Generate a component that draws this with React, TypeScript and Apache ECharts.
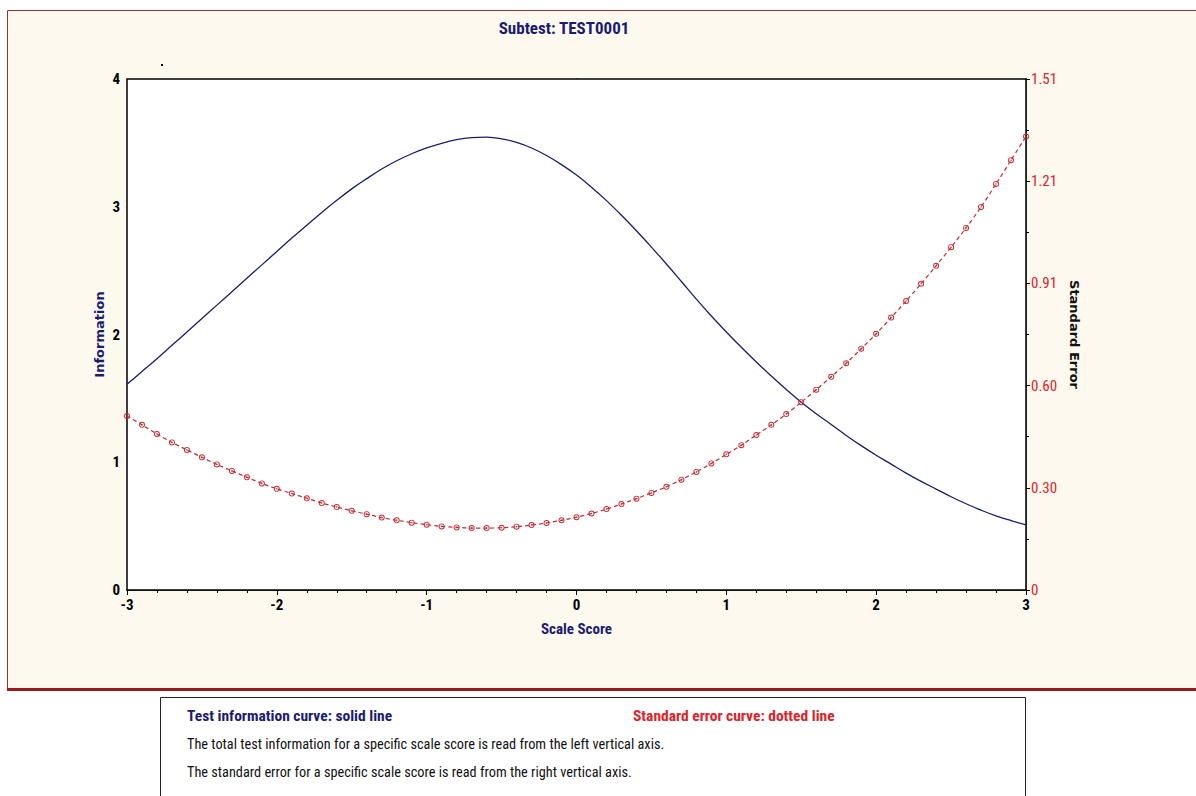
import React, { useEffect, useRef } from "react";
import * as echarts from "echarts";

const scaleScores = [
  -3.0, -2.9, -2.8, -2.7, -2.6, -2.5, -2.4, -2.3, -2.2, -2.1,
  -2.0, -1.9, -1.8, -1.7, -1.6, -1.5, -1.4, -1.3, -1.2, -1.1,
  -1.0, -0.9, -0.8, -0.7, -0.6, -0.5, -0.4, -0.3, -0.2, -0.1,
  0.0, 0.1, 0.2, 0.3, 0.4, 0.5, 0.6, 0.7, 0.8, 0.9,
  1.0, 1.1, 1.2, 1.3, 1.4, 1.5, 1.6, 1.7, 1.8, 1.9,
  2.0, 2.1, 2.2, 2.3, 2.4, 2.5, 2.6, 2.7, 2.8, 2.9, 3.0,
];

const informationValues = [
  1.61, 1.71, 1.81, 1.915, 2.02, 2.125, 2.23, 2.335, 2.44, 2.545,
  2.65, 2.755, 2.855, 2.955, 3.05, 3.14, 3.22, 3.295, 3.36, 3.415,
  3.46, 3.497, 3.525, 3.541, 3.545, 3.532, 3.503, 3.46, 3.401, 3.33,
  3.248, 3.153, 3.048, 2.933, 2.812, 2.684, 2.552, 2.415, 2.277, 2.145,
  2.02, 1.90, 1.785, 1.675, 1.57, 1.47, 1.38, 1.295, 1.21, 1.13,
  1.055, 0.985, 0.915, 0.85, 0.79, 0.73, 0.675, 0.625, 0.58, 0.543, 0.51,
];

const standardErrorValues = [
  0.514, 0.488, 0.461, 0.436, 0.414, 0.392, 0.371, 0.352, 0.333, 0.315,
  0.299, 0.285, 0.271, 0.257, 0.245, 0.234, 0.224, 0.214, 0.206, 0.199,
  0.193, 0.188, 0.185, 0.183, 0.183, 0.184, 0.187, 0.192, 0.198, 0.206,
  0.215, 0.226, 0.239, 0.254, 0.270, 0.287, 0.305, 0.326, 0.349, 0.374,
  0.401, 0.428, 0.458, 0.488, 0.520, 0.555, 0.592, 0.630, 0.670, 0.713,
  0.757, 0.805, 0.854, 0.905, 0.958, 1.013, 1.070, 1.132, 1.200, 1.270, 1.340,
];

const titleText = "Subtest: TEST0001";
const xAxisName = "Scale Score";
const leftAxisName = "Information";
const rightAxisName = "Standard Error";
const noteHeadLeft = "Test information curve: solid line";
const noteHeadRight = "Standard error curve: dotted line";
const noteLines = [
  "The total test information for a specific scale score is read from the left vertical axis.",
  "The standard error for a specific scale score is read from the right vertical axis.",
];

const FONT_N = "'Liberation Sans Narrow','Arial Narrow','Roboto Condensed',sans-serif";
const FONT_V = "'DejaVu Sans',Verdana,sans-serif";
const NAVY = "#1b1b72";
const RED = "#e0222a";
const SE_RED = "#c42a30";

const RING_DOT =
  "path://M0,-10A10,10 0 1,1 0,10A10,10 0 1,1 0,-10Z" +
  "M0,-7A7,7 0 1,0 0,7A7,7 0 1,0 0,-7Z" +
  "M0,-2.6A2.6,2.6 0 1,1 0,2.6A2.6,2.6 0 1,1 0,-2.6Z";

export default function App() {
  const ref = useRef<HTMLDivElement>(null);

  useEffect(() => {
    if (!ref.current) return;
    const chart = echarts.init(ref.current, null, { renderer: "svg" });
    const infoData = scaleScores.map((x, i) => [x, informationValues[i]]);
    const seData = scaleScores.map((x, i) => [x, standardErrorValues[i]]);

    chart.setOption({
      animation: false,
      backgroundColor: "#ffffff",
      grid: {
        left: 127,
        top: 79,
        right: 170,
        bottom: 206,
        show: true,
        backgroundColor: "#ffffff",
        borderColor: "#000000",
        borderWidth: 1.5,
        z: 1,
      },
      xAxis: {
        type: "value",
        min: -3,
        max: 3,
        interval: 1,
        name: xAxisName,
        nameLocation: "middle",
        nameGap: 31,
        nameTextStyle: { color: NAVY, fontWeight: "bold", fontSize: 15, fontFamily: FONT_N },
        axisLine: { show: true, onZero: false, lineStyle: { color: "#000", width: 1.5 } },
        axisTick: { show: true, length: 5, lineStyle: { color: "#000" } },
        minorTick: { show: true, splitNumber: 5, length: 3, lineStyle: { color: "#000" } },
        splitLine: { show: false },
        axisLabel: {
          color: "#000",
          fontWeight: "bold",
          fontSize: 15,
          lineHeight: 15,
          fontFamily: FONT_N,
          margin: 7,
        },
      },
      yAxis: [
        {
          type: "value",
          min: 0,
          max: 4,
          interval: 1,
          position: "left",
          name: leftAxisName,
          nameLocation: "middle",
          nameGap: 21,
          nameMoveOverlap: false,
          nameRotate: 90,
          nameTextStyle: { color: NAVY, fontWeight: "bold", fontSize: 13, fontFamily: FONT_V },
          axisLine: { show: true, lineStyle: { color: "#000", width: 1.5 } },
          axisTick: { show: true, length: 5, lineStyle: { color: "#000" } },
          minorTick: { show: true, splitNumber: 5, length: 3, lineStyle: { color: "#000" } },
          splitLine: { show: false },
          axisLabel: {
            color: "#000",
            fontWeight: "bold",
            fontSize: 15,
            lineHeight: 14,
            fontFamily: FONT_N,
            margin: 7,
          },
        },
        {
          type: "value",
          min: 0,
          max: 1.51,
          interval: 0.302,
          position: "right",
          name: rightAxisName,
          nameLocation: "middle",
          nameGap: 35,
          nameRotate: -90,
          nameTextStyle: { color: "#111", fontWeight: "bold", fontSize: 13, fontFamily: FONT_V },
          axisLine: { show: true, lineStyle: { color: "#808080", width: 2 } },
          axisTick: { show: true, length: 4, lineStyle: { color: "#000" } },
          minorTick: { show: true, splitNumber: 2, length: 3, lineStyle: { color: "#000" } },
          splitLine: { show: false },
          axisLabel: {
            color: RED,
            fontSize: 15,
            fontFamily: FONT_N,
            margin: 5,
            formatter: (v: number) => (v === 0 ? "0" : v.toFixed(2)),
          },
        },
      ],
      series: [
        {
          name: "Information",
          type: "line",
          yAxisIndex: 0,
          data: infoData,
          showSymbol: false,
          smooth: 0.4,
          lineStyle: { color: NAVY, width: 1.3 },
          itemStyle: { color: NAVY },
          z: 3,
        },
        {
          name: "Standard Error",
          type: "line",
          yAxisIndex: 1,
          data: seData,
          symbol: RING_DOT,
          symbolSize: 6,
          smooth: 0.3,
          lineStyle: { color: SE_RED, width: 1.2, type: [4, 3] },
          itemStyle: { color: SE_RED },
          z: 4,
        },
      ],
      graphic: [
        {
          type: "rect",
          z: -10,
          silent: true,
          shape: { x: 7.5, y: 10.5, width: 1220, height: 678 },
          style: { fill: "#fdf9ef", stroke: "#8b3a3a", lineWidth: 1 },
        },
        {
          type: "line",
          z: -9,
          silent: true,
          shape: { x1: 7, y1: 689.5, x2: 1196, y2: 689.5 },
          style: { stroke: "#981b1e", lineWidth: 3 },
        },
        {
          type: "rect",
          z: -9,
          silent: true,
          shape: { x: 160.5, y: 697.5, width: 865, height: 140 },
          style: { fill: "#ffffff", stroke: "#222222", lineWidth: 1 },
        },
        {
          type: "rect",
          z: -8,
          silent: true,
          shape: { x: 161, y: 64, width: 2, height: 2 },
          style: { fill: "#000" },
        },
        {
          type: "text",
          x: 564,
          y: 28,
          style: {
            text: titleText,
            fill: NAVY,
            fontSize: 17,
            fontWeight: "bold",
            fontFamily: FONT_N,
            align: "center",
            verticalAlign: "middle",
          },
        },
        {
          type: "text",
          x: 187,
          y: 716,
          style: {
            text: noteHeadLeft,
            fill: NAVY,
            fontSize: 15.5,
            fontWeight: "bold",
            fontFamily: FONT_N,
            align: "left",
            verticalAlign: "middle",
          },
        },
        {
          type: "text",
          x: 633,
          y: 716,
          style: {
            text: noteHeadRight,
            fill: RED,
            fontSize: 15.5,
            fontWeight: "bold",
            fontFamily: FONT_N,
            align: "left",
            verticalAlign: "middle",
          },
        },
        {
          type: "text",
          x: 187,
          y: 744,
          style: {
            text: noteLines[0],
            fill: "#111",
            fontSize: 14.3,
            fontFamily: FONT_N,
            align: "left",
            verticalAlign: "middle",
          },
        },
        {
          type: "text",
          x: 187,
          y: 772,
          style: {
            text: noteLines[1],
            fill: "#111",
            fontSize: 14.3,
            fontFamily: FONT_N,
            align: "left",
            verticalAlign: "middle",
          },
        },
      ],
    });

    return () => chart.dispose();
  }, []);

  return (
    <div style={{ position: "absolute", left: 0, top: 0, width: 1196, height: 796 }}>
      <div ref={ref} style={{ width: 1196, height: 796 }} />
    </div>
  );
}
